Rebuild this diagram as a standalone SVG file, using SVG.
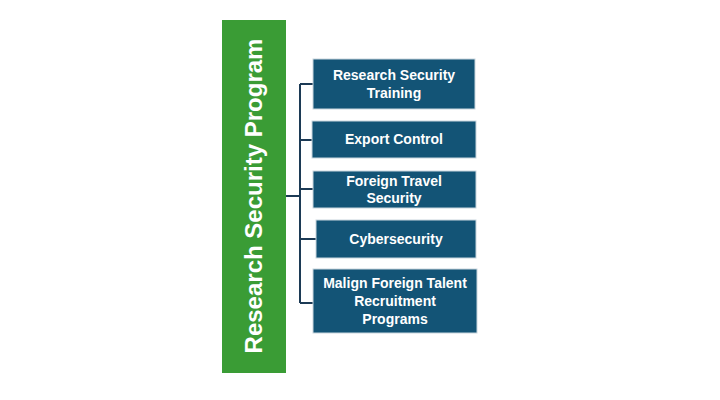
<svg xmlns="http://www.w3.org/2000/svg" width="720" height="400" viewBox="0 0 720 400">
<style>
.box{fill:#135476;stroke:#c9d6de;stroke-width:1}
.t{font-family:"Liberation Sans",Arial,sans-serif;font-weight:bold;font-size:14px;fill:#fff;text-anchor:middle}
.c{stroke:#1c3a55;stroke-width:2;fill:none}
</style>
<rect width="720" height="400" fill="#fff"/>
<g id="root">
<rect x="222" y="20" width="64" height="353" fill="#3a9c35"/>
<text transform="translate(262,196) rotate(-90)" text-anchor="middle" font-family="Liberation Sans,Arial,sans-serif" font-weight="bold" font-size="24" fill="#fff">Research Security Program</text>
</g>
<g id="connectors">
<path class="c" d="M286 196H300M300 84V303M300 84H313M300 140H312M300 189H313M300 239H316M300 303H313"/>
</g>
<g id="n1"><rect class="box" x="313" y="59" width="162" height="50"/><text class="t" x="394" y="80">Research Security</text><text class="t" x="394" y="98">Training</text></g>
<g id="n2"><rect class="box" x="312" y="121" width="164" height="37"/><text class="t" x="394" y="144">Export Control</text></g>
<g id="n3"><rect class="box" x="313" y="171" width="163" height="37"/><text class="t" x="394" y="186">Foreign Travel</text><text class="t" x="394" y="203">Security</text></g>
<g id="n4"><rect class="box" x="316" y="220" width="160" height="38"/><text class="t" x="396" y="244">Cybersecurity</text></g>
<g id="n5"><rect class="box" x="313" y="269" width="164" height="64"/><text class="t" x="395" y="288">Malign Foreign Talent</text><text class="t" x="395" y="306">Recruitment</text><text class="t" x="395" y="324">Programs</text></g>
</svg>
